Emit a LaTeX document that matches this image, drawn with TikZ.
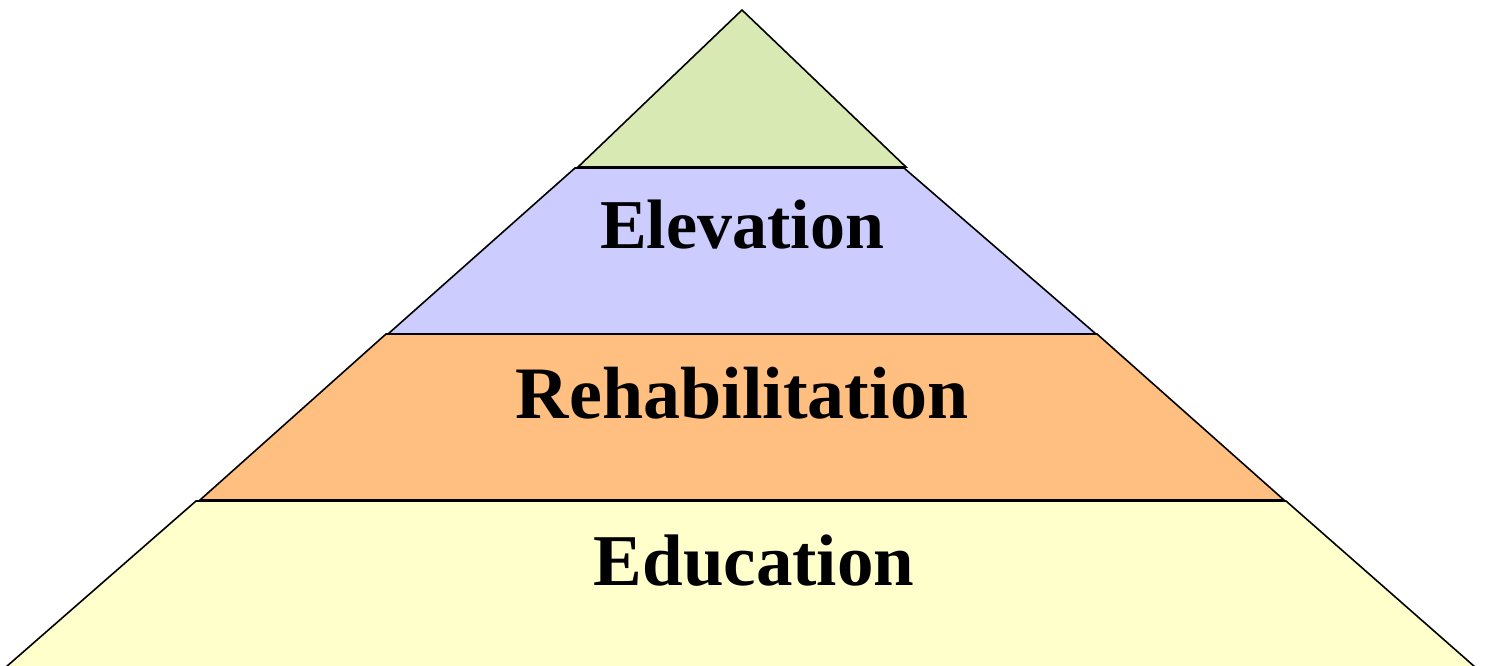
\documentclass[tikz,border=0pt]{standalone}
\usepackage{fontspec}
\setmainfont{Liberation Serif}
\definecolor{lgreen}{HTML}{D8E9B3}
\definecolor{lpurple}{HTML}{CCCCFF}
\definecolor{lorange}{HTML}{FFBF80}
\definecolor{lyellow}{HTML}{FFFFCC}
\begin{document}
\begin{tikzpicture}[x=1pt,y=-1pt,
  layer/.style={draw=black,line width=1.6pt,line join=miter},
  lbl/.style={anchor=base,inner sep=0pt,font=\bfseries}]
\useasboundingbox (0,0) rectangle (1487,665);
\fill[white] (0,0) rectangle (1487,665);
% yellow
\draw[layer,fill=lyellow] (196,501) -- (1286,501) -- (1475,667) -- (6,667) -- cycle;
% orange
\draw[layer,fill=lorange] (386,334) -- (1097,334) -- (1284,500) -- (200,500) -- cycle;
% purple
\draw[layer,fill=lpurple] (575,168) -- (904,168) -- (1096,334) -- (388,334) -- cycle;
% green
\draw[layer,fill=lgreen] (742,10) -- (906,167) -- (578,167) -- cycle;
\node[lbl,font=\fontsize{70}{80}\selectfont\bfseries] (elev) at (742,248) {Elevation};
\node[lbl,font=\fontsize{74}{80}\selectfont\bfseries] (rehab) at (742,418) {Rehabilitation};
\node[lbl,font=\fontsize{73}{80}\selectfont\bfseries] (edu) at (754,585) {Education};
\end{tikzpicture}
\end{document}
